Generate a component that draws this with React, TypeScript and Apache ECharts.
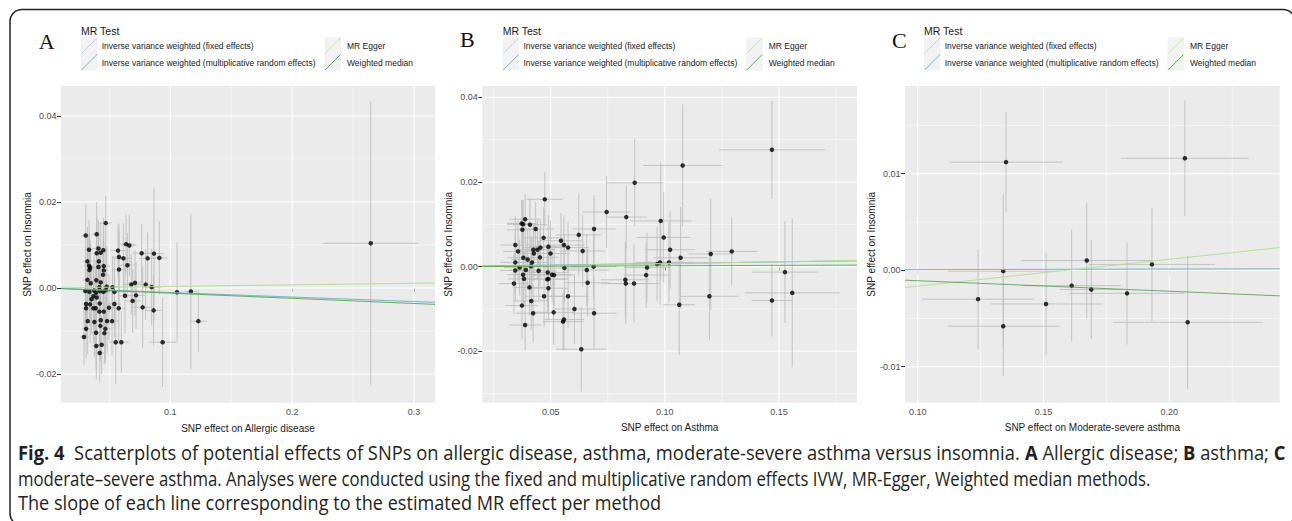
import React, { useEffect, useRef } from "react";
import * as echarts from "echarts";

// ---------------- shared legend ----------------
const legendTitle = "MR Test";
const methodNames = [
  "Inverse variance weighted (fixed effects)",
  "Inverse variance weighted (multiplicative random effects)",
  "MR Egger",
  "Weighted median",
];
const methodColors = ["#a6cee3", "#1f78b4", "#b2df8a", "#33a02c"];
const methodOpacity = [1, 0.3, 0.95, 0.75];

const yTitle = "SNP effect on Insomnia";

// ---------------- panel A: allergic disease ----------------
const allergicX = [
  0.047, 0.0306, 0.0396, 0.0637, 0.0664, 0.0333, 0.041, 0.0451, 0.0571, 0.0396,
  0.0429, 0.0579, 0.0615, 0.0765, 0.0814, 0.0866, 0.091, 0.032, 0.0413, 0.0333,
  0.0342, 0.0336, 0.0454, 0.041, 0.0648, 0.0579, 0.0448, 0.0454, 0.032, 0.0347,
  0.0393, 0.0429, 0.071, 0.068, 0.0798, 0.0847, 0.0478, 0.0525, 0.0303, 0.0336,
  0.0374, 0.0391, 0.0424, 0.0451, 0.047, 0.0418, 0.0541, 0.0628, 0.0719, 0.0369,
  0.0353, 0.0396, 0.0691, 0.0309, 0.0342, 0.0421, 0.0541, 0.0309, 0.0369, 0.0388,
  0.0497, 0.0577, 0.0773, 0.0418, 0.0454, 0.0863, 0.0322, 0.0377, 0.0429, 0.0481,
  0.0522, 0.123, 0.0309, 0.0426, 0.0467, 0.0459, 0.0391, 0.0292, 0.0552, 0.0598,
  0.0937, 0.0393, 0.0437, 0.0421, 0.1055, 0.1169, 0.2645,
];
const allergicY = [
  0.0151, 0.0122, 0.0125, 0.0102, 0.0099, 0.0089, 0.0092, 0.0088, 0.0087, 0.0081,
  0.0082, 0.0072, 0.0069, 0.0081, 0.0069, 0.008, 0.007, 0.0062, 0.0062, 0.0052,
  0.0047, 0.0042, 0.0051, 0.0049, 0.0053, 0.0043, 0.0031, 0.0041, 0.0019, 0.0011,
  0.0018, 0.0013, 0.0012, 0.0008, 0.0008, 0.0002, 0.0003, 0.0002, -0.0007, -0.0009,
  -0.0006, -0.0011, -0.0007, -0.0009, -0.0005, 0.0002, -0.0009, -0.0018, -0.0017, -0.0019,
  -0.0026, -0.0022, -0.003, -0.0037, -0.0038, -0.0036, -0.0037, -0.0047, -0.0047, -0.0047,
  -0.0046, -0.0047, -0.0045, -0.0055, -0.0055, -0.0052, -0.0077, -0.0079, -0.0075, -0.0077,
  -0.0077, -0.0077, -0.0095, -0.0088, -0.0095, -0.0105, -0.0104, -0.0114, -0.0126, -0.0126,
  -0.0126, -0.0135, -0.0132, -0.0151, -0.001, -0.0008, 0.0104,
];
const allergicXse = [
  0.005, 0.0035, 0.004, 0.007, 0.006, 0.0035, 0.0045, 0.004, 0.006, 0.004,
  0.0045, 0.0055, 0.0065, 0.0075, 0.007, 0.008, 0.0065, 0.0035, 0.0045, 0.004,
  0.0035, 0.004, 0.005, 0.0045, 0.006, 0.0055, 0.005, 0.004, 0.0035, 0.004,
  0.0045, 0.004, 0.0065, 0.006, 0.007, 0.0075, 0.005, 0.0055, 0.0035, 0.004,
  0.0045, 0.004, 0.005, 0.0045, 0.005, 0.004, 0.0055, 0.006, 0.007, 0.004,
  0.0035, 0.0045, 0.0065, 0.0035, 0.004, 0.0045, 0.0055, 0.0035, 0.004, 0.0045,
  0.005, 0.0055, 0.0075, 0.0045, 0.005, 0.007, 0.0035, 0.004, 0.0045, 0.005,
  0.0055, 0.007, 0.0035, 0.0045, 0.005, 0.0045, 0.004, 0.0035, 0.0055, 0.006,
  0.011, 0.004, 0.0045, 0.0045, 0.004, 0.005, 0.039,
];
const allergicYse = [
  0.0063, 0.0072, 0.0075, 0.0068, 0.0072, 0.007, 0.0066, 0.0075, 0.0063, 0.0085,
  0.007, 0.0078, 0.0082, 0.0068, 0.006, 0.0155, 0.0085, 0.008, 0.009, 0.0074,
  0.0066, 0.0085, 0.0088, 0.0072, 0.0075, 0.0092, 0.008, 0.0068, 0.0078, 0.0092,
  0.0084, 0.007, 0.0076, 0.007, 0.0082, 0.009, 0.0095, 0.0072, 0.0088, 0.0078,
  0.0082, 0.0074, 0.008, 0.0085, 0.0092, 0.0066, 0.008, 0.0088, 0.0078, 0.0072,
  0.008, 0.0086, 0.0074, 0.0082, 0.009, 0.0074, 0.0078, 0.0068, 0.008, 0.0088,
  0.0076, 0.0084, 0.0095, 0.008, 0.007, 0.0082, 0.0076, 0.0082, 0.009, 0.0074,
  0.008, 0.0072, 0.007, 0.0084, 0.0078, 0.0072, 0.0085, 0.0066, 0.0098, 0.0072,
  0.0104, 0.0078, 0.0068, 0.007, 0.0117, 0.018, 0.033,
];
const allergicIntercept = [0, 0, 0.0, 0];
const allergicSlope = [-0.0105, -0.0105, 0.0037, -0.012];
const allergicXTicks = [0.1, 0.2, 0.3];
const allergicXMinor = [0.05, 0.15, 0.25];
const allergicYTicks = [-0.02, 0.0, 0.02, 0.04];
const allergicYMinor = [-0.01, 0.01, 0.03];

// ---------------- panel B: asthma ----------------
const asthmaX = [
  0.0868, 0.0474, 0.0745, 0.0831, 0.0388, 0.0373, 0.0379, 0.0409, 0.0376, 0.0434,
  0.069, 0.0469, 0.0545, 0.0558, 0.0576, 0.0623, 0.0345, 0.049, 0.0455, 0.0357,
  0.0424, 0.0442, 0.0426, 0.0499, 0.064, 0.038, 0.0399, 0.0453, 0.0418, 0.0345,
  0.0364, 0.0391, 0.0345, 0.0414, 0.0447, 0.056, 0.0487, 0.0506, 0.0515, 0.049,
  0.0485, 0.0379, 0.0383, 0.0658, 0.0688, 0.0339, 0.0407, 0.049, 0.0662, 0.0827,
  0.0829, 0.0865, 0.0415, 0.0374, 0.0471, 0.0576, 0.0604, 0.0423, 0.0513, 0.069,
  0.0558, 0.0554, 0.0388, 0.0634, 0.1078, 0.1469, 0.0982, 0.0995, 0.1023, 0.1069,
  0.1018, 0.0979, 0.0966, 0.0922, 0.0918, 0.1201, 0.1293, 0.1526, 0.1558, 0.1469,
  0.1195, 0.1063,
];
const asthmaY = [
  0.0198, 0.0159, 0.0129, 0.0117, 0.0112, 0.0102, 0.01, 0.0099, 0.0087, 0.0089,
  0.0089, 0.0068, 0.0061, 0.0051, 0.0045, 0.0075, 0.0051, 0.0047, 0.0045, 0.0036,
  0.004, 0.004, 0.0031, 0.0031, 0.0037, 0.0021, 0.0017, 0.0022, 0.001, 0.001,
  -0.0002, -0.0008, -0.0009, 0.0001, -0.001, -0.0003, -0.0014, -0.0019, -0.002, -0.0029,
  -0.003, -0.0019, -0.0029, -0.0008, 0.0, -0.004, -0.0049, -0.0051, -0.0038, -0.0031,
  -0.004, -0.004, -0.0081, -0.0092, -0.007, -0.007, -0.01, -0.011, -0.0108, -0.011,
  -0.0125, -0.013, -0.0138, -0.0195, 0.0239, 0.0276, 0.0108, 0.0069, 0.004, 0.0021,
  0.001, 0.001, 0.0006, -0.0002, -0.002, 0.003, 0.0036, -0.0013, -0.0062, -0.008,
  -0.007, -0.009,
];
const asthmaXse = [
  0.0124, 0.008, 0.0105, 0.009, 0.007, 0.0065, 0.007, 0.0075, 0.0068, 0.0078,
  0.0095, 0.0085, 0.009, 0.0088, 0.0092, 0.01, 0.0065, 0.0085, 0.008, 0.0066,
  0.0075, 0.0078, 0.0072, 0.0085, 0.0098, 0.007, 0.0072, 0.008, 0.0075, 0.0065,
  0.0068, 0.0072, 0.0066, 0.0074, 0.008, 0.009, 0.0084, 0.0086, 0.0088, 0.0085,
  0.0084, 0.007, 0.007, 0.0098, 0.01, 0.0065, 0.0074, 0.0085, 0.0098, 0.0105,
  0.0108, 0.0112, 0.0075, 0.007, 0.0082, 0.009, 0.0095, 0.0076, 0.0088, 0.0098,
  0.0088, 0.009, 0.007, 0.011, 0.0172, 0.0232, 0.0135, 0.0117, 0.011, 0.0118,
  0.0112, 0.0108, 0.0105, 0.01, 0.0098, 0.0099, 0.0113, 0.0144, 0.0208, 0.009,
  0.0128, 0.0069,
];
const asthmaYse = [
  0.0103, 0.0065, 0.0085, 0.0075, 0.006, 0.0055, 0.0058, 0.0062, 0.007, 0.0064,
  0.008, 0.0072, 0.0066, 0.007, 0.006, 0.0098, 0.0068, 0.0075, 0.0064, 0.0072,
  0.0062, 0.007, 0.0066, 0.0078, 0.0085, 0.0064, 0.0072, 0.0068, 0.0062, 0.0076,
  0.0066, 0.007, 0.0074, 0.0065, 0.0072, 0.008, 0.007, 0.0066, 0.0074, 0.0068,
  0.0078, 0.007, 0.0064, 0.0085, 0.0078, 0.0072, 0.0066, 0.0074, 0.008, 0.009,
  0.0095, 0.0092, 0.0068, 0.0078, 0.0072, 0.0075, 0.0082, 0.007, 0.0076, 0.0085,
  0.0072, 0.0068, 0.006, 0.01, 0.0144, 0.0116, 0.0138, 0.0107, 0.0092, 0.012,
  0.0095, 0.01, 0.0088, 0.0082, 0.0078, 0.0132, 0.0081, 0.012, 0.0176, 0.0085,
  0.0103, 0.0119,
];
const asthmaIntercept = [0, 0, -0.0002, 0];
const asthmaSlope = [0.0075, 0.0075, 0.009, 0.002];
const asthmaXTicks = [0.05, 0.1, 0.15];
const asthmaXMinor = [0.025, 0.075, 0.125, 0.175];
const asthmaYTicks = [-0.02, 0.0, 0.02, 0.04];
const asthmaYMinor = [-0.03, -0.01, 0.01, 0.03];

// ---------------- panel C: moderate-severe asthma ----------------
const severeX = [0.1351, 0.2062, 0.134, 0.124, 0.134, 0.151, 0.1612, 0.1672, 0.169, 0.1832, 0.1931, 0.2073];
const severeY = [0.0112, 0.0116, -0.0001, -0.003, -0.0058, -0.0035, -0.0016, 0.001, -0.002, -0.0024, 0.0006, -0.0054];
const severeXse = [0.0225, 0.0254, 0.0221, 0.0223, 0.0222, 0.0221, 0.0195, 0.026, 0.0126, 0.0228, 0.0251, 0.0297];
const severeYse = [0.0052, 0.006, 0.008, 0.0052, 0.0052, 0.0053, 0.0058, 0.006, 0.0051, 0.0053, 0.0059, 0.0069];
const severeIntercept = [0, 0, -0.00443, 0];
const severeSlope = [0.0006, 0.0006, 0.0278, -0.0109];
const severeXTicks = [0.1, 0.15, 0.2];
const severeXMinor = [0.125, 0.175, 0.225];
const severeYTicks = [-0.01, 0.0, 0.01];
const severeYMinor = [-0.005, 0.005, 0.015];

// ---------------- caption ----------------
const captionLines = [
  [
    { t: "Fig. 4", b: true },
    { t: "  Scatterplots of potential effects of SNPs on allergic disease, asthma, moderate-severe asthma versus insomnia. ", b: false },
    { t: "A", b: true },
    { t: " Allergic disease; ", b: false },
    { t: "B", b: true },
    { t: " asthma; ", b: false },
    { t: "C", b: true },
  ],
  [{ t: "moderate\u2013severe asthma. Analyses were conducted using the fixed and multiplicative random effects IVW, MR-Egger, Weighted median methods.", b: false }],
  [{ t: "The slope of each line corresponding to the estimated MR effect per method", b: false }],
];

// ---------------- layout (positions / styles) ----------------
const SANS = "'Liberation Sans', Arial, Helvetica, sans-serif";
const SERIF = "'Liberation Serif', 'Times New Roman', serif";
const CAP_FONT = "'Open Sans', 'Noto Sans', sans-serif";

const panels = [
  {
    letter: "A", letterX: 46.7, letterY: 41.7, legendX: 81,
    grid: { left: 61, top: 86, width: 374, height: 317 },
    xMin: 0.0103, xMax: 0.31723, yMin: -0.02674, yMax: 0.04698,
    xDec: 1, yDec: 2, xTitle: "SNP effect on Allergic disease",
    X: allergicX, Y: allergicY, Xse: allergicXse, Yse: allergicYse,
    a: allergicIntercept, b: allergicSlope,
    xt: allergicXTicks, xm: allergicXMinor, yt: allergicYTicks, ym: allergicYMinor,
  },
  {
    letter: "B", letterX: 467.3, letterY: 39.7, legendX: 502.7,
    grid: { left: 482.3, top: 86, width: 374.7, height: 316.7 },
    xMin: 0.02004, xMax: 0.18416, yMin: -0.03214, yMax: 0.04267,
    xDec: 2, yDec: 2, xTitle: "SNP effect on Asthma",
    X: asthmaX, Y: asthmaY, Xse: asthmaXse, Yse: asthmaYse,
    a: asthmaIntercept, b: asthmaSlope,
    xt: asthmaXTicks, xm: asthmaXMinor, yt: asthmaYTicks, ym: asthmaYMinor,
  },
  {
    letter: "C", letterX: 899.3, letterY: 40, legendX: 924,
    grid: { left: 905, top: 86, width: 374.7, height: 316.7 },
    xMin: 0.09495, xMax: 0.24388, yMin: -0.01373, yMax: 0.01909,
    xDec: 2, yDec: 2, xTitle: "SNP effect on Moderate-severe asthma",
    X: severeX, Y: severeY, Xse: severeXse, Yse: severeYse,
    a: severeIntercept, b: severeSlope,
    xt: severeXTicks, xm: severeXMinor, yt: severeYTicks, ym: severeYMinor,
  },
];

function measureLine(segs: { t: string; b: boolean }[], size: number): number {
  const ctx = document.createElement("canvas").getContext("2d");
  if (!ctx) return 0;
  let w = 0;
  for (const s of segs) {
    ctx.font = `${s.b ? "bold " : ""}${size}px ${CAP_FONT}`;
    w += ctx.measureText(s.t).width;
  }
  return w;
}

function buildOption() {
  const grids: any[] = [];
  const xAxes: any[] = [];
  const yAxes: any[] = [];
  const series: any[] = [];
  const graphics: any[] = [];

  panels.forEach((p, i) => {
    grids.push({ ...p.grid, show: true, backgroundColor: "#EBEBEB", borderWidth: 0, containLabel: false });
    xAxes.push({
      type: "value", gridIndex: i, min: p.xMin, max: p.xMax,
      axisLine: { show: false },
      axisTick: { show: true, length: 4, lineStyle: { color: "#333333", width: 1 }, customValues: p.xt },
      axisLabel: {
        customValues: p.xt, formatter: (v: number) => v.toFixed(p.xDec),
        color: "#4D4D4D", fontSize: 9, margin: 4.5, fontFamily: SANS,
      },
      splitLine: { show: false },
      name: p.xTitle, nameLocation: "middle", nameGap: 20,
      nameTextStyle: { fontSize: 10, color: "#1a1a1a", fontFamily: SANS },
    });
    yAxes.push({
      type: "value", gridIndex: i, min: p.yMin, max: p.yMax,
      axisLine: { show: false },
      axisTick: { show: true, length: 4, lineStyle: { color: "#333333", width: 1 }, customValues: p.yt },
      axisLabel: {
        customValues: p.yt, formatter: (v: number) => v.toFixed(p.yDec),
        color: "#4D4D4D", fontSize: 9, margin: 4.5, fontFamily: SANS,
      },
      splitLine: { show: false },
      name: yTitle, nameLocation: "middle", nameGap: 26, nameRotate: 90,
      nameTextStyle: { fontSize: 10, color: "#1a1a1a", fontFamily: SANS },
    });

    // gridlines
    series.push({
      type: "custom", xAxisIndex: i, yAxisIndex: i, z: 1, silent: true,
      data: [[p.xMin, p.yMin]],
      renderItem: (params: any, api: any) => {
        const cs = params.coordSys;
        const children: any[] = [];
        const vl = (v: number, w: number) => {
          const c = api.coord([v, p.yMin]);
          children.push({ type: "line", shape: { x1: c[0], y1: cs.y, x2: c[0], y2: cs.y + cs.height }, style: { stroke: "#FFFFFF", lineWidth: w } });
        };
        const hl = (v: number, w: number) => {
          const c = api.coord([p.xMin, v]);
          children.push({ type: "line", shape: { x1: cs.x, y1: c[1], x2: cs.x + cs.width, y2: c[1] }, style: { stroke: "#FFFFFF", lineWidth: w } });
        };
        p.xm.forEach((v) => vl(v, 0.55));
        p.ym.forEach((v) => hl(v, 0.55));
        p.xt.forEach((v) => vl(v, 1.1));
        p.yt.forEach((v) => hl(v, 1.1));
        return { type: "group", children };
      },
    });

    // error bars
    series.push({
      type: "custom", xAxisIndex: i, yAxisIndex: i, z: 2, silent: true, clip: true,
      data: p.X.map((x, k) => [x, p.Y[k], p.Xse[k], p.Yse[k]]),
      encode: { x: 0, y: 1 },
      renderItem: (params: any, api: any) => {
        const x = api.value(0), y = api.value(1), xs = api.value(2), ys = api.value(3);
        const h1 = api.coord([x - xs, y]);
        const h2 = api.coord([x + xs, y]);
        const v1 = api.coord([x, y - ys]);
        const v2 = api.coord([x, y + ys]);
        const style = { stroke: "#BEBEBE", lineWidth: 0.9 };
        return {
          type: "group",
          children: [
            { type: "line", shape: { x1: h1[0], y1: h1[1], x2: h2[0], y2: h2[1] }, style },
            { type: "line", shape: { x1: v1[0], y1: v1[1], x2: v2[0], y2: v2[1] }, style },
          ],
        };
      },
    });

    // points
    series.push({
      type: "scatter", xAxisIndex: i, yAxisIndex: i, z: 3, silent: true,
      symbolSize: 4.5, itemStyle: { color: "#000000" },
      data: p.X.map((x, k) => [x, p.Y[k]]),
    });

    // MR lines
    methodNames.forEach((m, k) => {
      series.push({
        type: "line", name: m, xAxisIndex: i, yAxisIndex: i, z: 4, silent: true,
        symbol: "none", showSymbol: false, clip: true,
        lineStyle: { color: methodColors[k], width: 1, opacity: methodOpacity[k] },
        data: [
          [p.xMin, p.a[k] + p.b[k] * p.xMin],
          [p.xMax, p.a[k] + p.b[k] * p.xMax],
        ],
      });
    });

    // panel letter
    graphics.push({
      type: "text", x: p.letterX, y: p.letterY,
      style: { text: p.letter, fontSize: 22, fontFamily: SERIF, fill: "#111111", align: "center", verticalAlign: "middle" },
    });
    // legend
    const o = p.legendX;
    graphics.push({
      type: "text", x: o, y: 31,
      style: { text: legendTitle, fontSize: 10.5, fontFamily: SANS, fill: "#1a1a1a", align: "left", verticalAlign: "middle" },
    });
    methodNames.forEach((m, k) => {
      const col = Math.floor(k / 2);
      const row = k % 2;
      const kx = o + (col ? 243.5 : 0);
      const ky = row ? 54 : 37.5;
      graphics.push({ type: "rect", shape: { x: kx, y: ky, width: 16.5, height: 16.5 }, style: { fill: "#F2F2F2" } });
      graphics.push({
        type: "line", shape: { x1: kx + 0.5, y1: ky + 16, x2: kx + 16, y2: ky + 0.5 },
        style: { stroke: methodColors[k], lineWidth: 0.8, opacity: k === 1 ? 0.7 : 1 },
      });
      graphics.push({
        type: "text", x: kx + (col ? 22.5 : 20.7), y: ky + 8.5,
        style: { text: m, fontSize: 8.5, fontFamily: SANS, fill: "#1a1a1a", align: "left", verticalAlign: "middle" },
      });
    });
  });

  // caption
  const capSize = 20;
  const targets = [1268, 1134, 643];
  const capY = [452, 478, 503];
  captionLines.forEach((segs, li) => {
    const w = measureLine(segs, capSize);
    const s = w > 0 ? targets[li] / w : 0.8;
    const text = segs.map((sg) => `{${sg.b ? "b" : "r"}|${sg.t}}`).join("");
    graphics.push({
      type: "text", x: 18, y: capY[li], scaleX: s, scaleY: 1,
      style: {
        text, fontSize: capSize, fontFamily: CAP_FONT, fill: "#231F20", align: "left", verticalAlign: "middle",
        rich: {
          b: { fontWeight: "bold", fontSize: capSize, fontFamily: CAP_FONT, fill: "#231F20" },
          r: { fontWeight: "normal", fontSize: capSize, fontFamily: CAP_FONT, fill: "#231F20" },
        },
      },
    });
  });

  // frame (right edge sits just outside the picture, as in the reference)
  graphics.push({
    type: "rect", shape: { x: 10, y: 9.5, width: 1285, height: 516, r: 12 },
    style: { fill: "transparent", stroke: "#231F20", lineWidth: 1.5 },
  });

  return {
    animation: false,
    backgroundColor: "#FFFFFF",
    grid: grids,
    xAxis: xAxes,
    yAxis: yAxes,
    series,
    graphic: graphics,
  };
}

export default function App() {
  const ref = useRef<HTMLDivElement>(null);
  useEffect(() => {
    if (!ref.current) return;
    const chart = echarts.init(ref.current, undefined, { renderer: "svg" });
    chart.setOption(buildOption() as any);
    return () => chart.dispose();
  }, []);
  return (
    <div
      ref={ref}
      style={{ position: "absolute", left: 0, top: 0, width: 1292, height: 521, background: "#fff" }}
    />
  );
}
